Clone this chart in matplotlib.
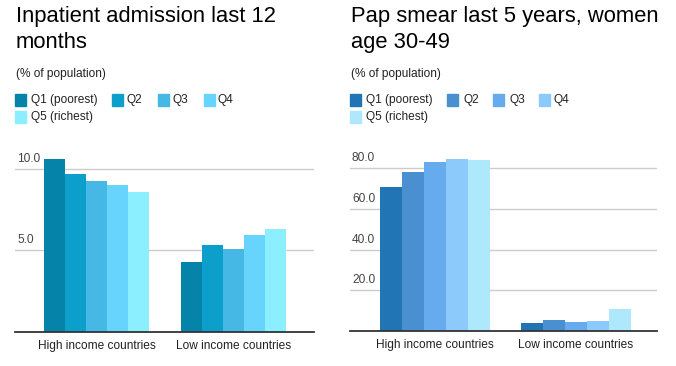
import matplotlib.pyplot as plt
import matplotlib.transforms as mtransforms
from matplotlib.patches import Rectangle
import numpy as np

plt.rcParams['font.family'] = ['Liberation Sans', 'DejaVu Sans']

# data
categories = ["High income countries", "Low income countries"]
series = ["Q1 (poorest)", "Q2", "Q3", "Q4", "Q5 (richest)"]

inpatient = [
    [10.65, 4.29],   # Q1
    [9.72, 5.34],    # Q2
    [9.29, 5.09],    # Q3
    [9.04, 5.96],    # Q4
    [8.61, 6.33],    # Q5
]
pap = [
    [70.8, 4.1],
    [78.1, 5.4],
    [83.0, 4.4],
    [84.5, 4.9],
    [84.0, 10.8],
]

colors_left = ["#0683a9", "#0c9fcb", "#45b8e5", "#66d4fc", "#8befff"]
colors_right = ["#2175b5", "#4a90d0", "#65abed", "#8ccafc", "#ade8fc"]

titles = ["Inpatient admission last 12\nmonths", "Pap smear last 5 years, women\nage 30-49"]
subtitle = "(% of population)"
yticks_left = [5.0, 10.0]
yticks_right = [20.0, 40.0, 60.0, 80.0]

W, H = 676, 366
fig = plt.figure(figsize=(W / 100, H / 100), dpi=100)


def px(x, y):
    return x / W, 1 - y / H


def draw_panel(rect, vals, colors, yticks, ylim, xlim, group_w, title, x0, leg_pos):
    ax = fig.add_axes(rect)
    n = len(vals)
    bw = group_w / n
    xs = np.arange(len(categories))
    for i, v in enumerate(vals):
        ax.bar(xs - group_w / 2 + bw * (i + 0.5), v, bw, color=colors[i], linewidth=0, zorder=2)
    ax.set_xlim(*xlim)
    ax.set_ylim(*ylim)
    for s in ["top", "right", "left"]:
        ax.spines[s].set_visible(False)
    ax.spines["bottom"].set_color("#333333")
    ax.spines["bottom"].set_linewidth(1.3)
    ax.spines["bottom"].set_zorder(3)
    ax.set_yticks(yticks)
    ax.set_yticklabels([])
    ax.tick_params(axis="y", length=0)
    ax.yaxis.grid(True, color="#cccccc", linewidth=1, zorder=0)
    ax.set_axisbelow(True)
    ax.set_xticks(xs)
    ax.set_xticklabels(categories, fontsize=8.6, color="#222222")
    ax.tick_params(axis="x", length=0, pad=6)
    trans = mtransforms.blended_transform_factory(ax.transAxes, ax.transData)
    off = mtransforms.offset_copy(trans, fig=fig, x=2, y=4, units="dots")
    for t in yticks:
        ax.text(0, t, "%.1f" % t, transform=off, fontsize=8.6, color="#444444",
                ha="left", va="bottom", zorder=1)

    # title and subtitle
    fig.text(*px(x0 + 1, 6), title, fontsize=15.8, color="#000000", va="top", ha="left",
             linespacing=1.32)
    fig.text(*px(x0 + 1, 74), subtitle, fontsize=8.6, color="#222222", va="center", ha="left")

    # legend
    sq = 11
    for i, name in enumerate(series):
        sx, sy, tx = leg_pos[i]
        fig.patches.append(Rectangle(px(sx, sy + sq / 2), sq / W, sq / H,
                                     transform=fig.transFigure, color=colors[i]))
        fig.text(*px(tx, sy), name, fontsize=8.6, color="#222222", va="center", ha="left")
    return ax


left_leg = [(15, 100, 31), (112, 100, 127), (158, 100, 173), (204, 100, 218), (15, 117, 31)]
right_leg = [(350, 100, 366), (447, 100, 464), (493, 100, 509), (539, 100, 553), (350, 117, 366)]

draw_panel([15 / W, 34.5 / H, 299 / W, 181.5 / H], inpatient, colors_left, yticks_left,
           (0, 11.2), (-0.595, 1.588), 0.766, titles[0], 15, left_leg)
draw_panel([350 / W, 35 / H, 306.7 / W, 181 / H], pap, colors_right, yticks_right,
           (0, 88.9), (-0.603, 1.572), 0.78, titles[1], 350, right_leg)

fig.savefig("out.png", dpi=100)
